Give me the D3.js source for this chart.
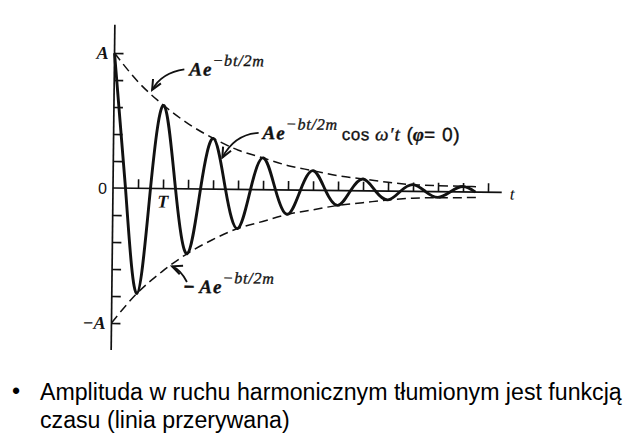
<!DOCTYPE html>
<html><head><meta charset="utf-8">
<script src="https://cdn.jsdelivr.net/npm/d3@7"></script>
<style>html,body{margin:0;padding:0;background:#fff;}svg{display:block;}</style>
</head><body>
<svg id="c" width="640" height="448"></svg>
<script>
// ---- data (time in half-period units: one tick = T/2; values in units of A) ----
const tickT = [1,2,3,4,5,6,7,8,9,10,11,12,13,14,15];
const yTickV = [-1,-0.8,-0.6,-0.4,-0.2,0.2,0.4,0.6,0.8,1];
const extremaT = [0,1,2,3,4,5,6,7,8,9,10,11,12,13,14];
const extremaV = [1.00,-0.78,0.615,-0.48,0.375,-0.29,0.235,-0.18,0.145,-0.11,0.088,-0.065,0.05,-0.042,0.04];
const crossT = [0.5,1.5,2.5,3.5,4.5,5.5,6.5,7.5,8.5,9.5,10.5,11.5,12.5,13.5,14.5];
const envT = [0,1,2,3,4,5,6,7,8,9,10,11,12,13,14,14.7];
const envV = [1.00,0.78,0.615,0.48,0.375,0.29,0.235,0.18,0.145,0.11,0.088,0.065,0.05,0.045,0.042,0.04];
const yLabels = ["A","0","−A"];
const yLabelV = [1,0,-1];
const bulletLines = ["Amplituda w ruchu harmonicznym tłumionym jest funkcją","czasu (linia przerywana)"];
// annotation arrows: tail, control, tip (data coords)
const arrows = [
  {t0:2.8, v0:0.885, tc:1.9, vc:0.86, t1:1.52, v1:0.73},
  {t0:5.8, v0:0.42, tc:4.85, vc:0.41, t1:4.36, v1:0.235},
  {t0:3.0, v0:-0.69, tc:2.75, vc:-0.6, t1:2.4, v1:-0.575}
];

const svg = d3.select("#c");
svg.append("rect").attr("width",640).attr("height",448).attr("fill","#fff");

const x = d3.scaleLinear().domain([0,15]).range([113,488]);
const y = d3.scaleLinear().domain([-1,1]).range([323,53]);

const g = svg.append("g").attr("transform",`rotate(0.65, ${x(0)}, ${y(0)})`);

// axes
const xAxisG = g.append("g").attr("transform",`translate(0,${y(0)})`)
  .call(d3.axisTop(x).tickValues(tickT).tickSize(9).tickSizeOuter(0).tickFormat(""));
xAxisG.select(".domain").attr("d",`M${x(0)},0H${x(15.55)}`);
xAxisG.selectAll("path,line").attr("stroke","#111").attr("stroke-width",1.6);

const yAxisG = g.append("g").attr("transform",`translate(${x(0)},0)`)
  .call(d3.axisRight(y).tickValues(yTickV).tickSize(9).tickSizeOuter(0).tickFormat(""));
yAxisG.select(".domain").attr("d",`M0,${y(1.21)}V${y(-1.2)}`);
yAxisG.selectAll("path,line").attr("stroke","#111").attr("stroke-width",1.7);

// envelopes
const envLine = d3.line().x(d=>x(d[0])).y(d=>y(d[1])).curve(d3.curveMonotoneX);
const upper = envT.map((t,i)=>[t, envV[i]]);
const lower = envT.map((t,i)=>[t, -envV[i]]);
[upper, lower].forEach(pts=>{
  g.append("path").attr("d",envLine(pts)).attr("fill","none")
    .attr("stroke","#111").attr("stroke-width",1.5).attr("stroke-dasharray","9,5");
});

// damped oscillation
const waveLine = d3.line().x(d=>x(d[0])).y(d=>y(d[1])).curve(d3.curveNatural);
const wavePts = extremaT.map((t,i)=>[t, extremaV[i]])
  .concat(crossT.map(t=>[t,0])).sort((a,b)=>a[0]-b[0]);
g.append("path").attr("d",waveLine(wavePts)).attr("fill","none")
  .attr("stroke","#111").attr("stroke-width",2.9).attr("stroke-linejoin","round");

// axis labels
const serif = "'Liberation Serif','DejaVu Serif',serif";
const sans = "'Liberation Sans',Arial,sans-serif";
yLabels.forEach((lab,i)=>{
  const isZero = lab==="0";
  g.append("text").attr("x", x(0)-6).attr("y", y(yLabelV[i])+6)
    .attr("text-anchor","end")
    .attr("font-family", isZero? sans: serif)
    .attr("font-style", isZero? "normal":"italic")
    .attr("font-weight", isZero? "normal":"bold")
    .attr("font-size", isZero? 16: 18).attr("fill","#111").text(lab);
});
g.append("text").attr("x",x(2)).attr("y",y(0)+19).attr("text-anchor","middle")
  .attr("font-family",serif).attr("font-style","italic").attr("font-weight","bold")
  .attr("font-size",18).attr("fill","#111").text("T");
g.append("text").attr("x",x(15.55)+8).attr("y",y(0)+7)
  .attr("font-family",serif).attr("font-style","italic")
  .attr("font-size",17).attr("fill","#111").text("t");

// arrows
const defs = svg.append("defs");
defs.append("marker").attr("id","ah").attr("markerUnits","userSpaceOnUse")
  .attr("viewBox","-12 -7 14 14").attr("markerWidth",14).attr("markerHeight",14)
  .attr("refX",0).attr("refY",0).attr("orient","auto")
  .append("path").attr("d","M-10,-4.5L0,0L-10,4.5").attr("fill","none")
  .attr("stroke","#111").attr("stroke-width",2);
arrows.forEach(a=>{
  g.append("path").attr("d",`M${x(a.t0)},${y(a.v0)}Q${x(a.tc)},${y(a.vc)} ${x(a.t1)},${y(a.v1)}`)
    .attr("fill","none").attr("stroke","#111").attr("stroke-width",1.8)
    .attr("marker-end","url(#ah)");
});

// annotation labels
function expo(sel, prefix){
  if(prefix) sel.append("tspan").attr("font-family",sans).attr("font-weight","bold").attr("font-size",18).text(prefix);
  sel.append("tspan").attr("font-family",serif).attr("font-style","italic").attr("font-weight","bold")
    .attr("font-size",19).attr("letter-spacing",1).text("Ae");
  sel.append("tspan").attr("font-family",serif).attr("font-style","italic")
    .attr("font-size",16).attr("dy",-10).attr("letter-spacing",0.8).text("−bt/2m");
}
function thick(sel){ sel.attr("stroke","#111").attr("stroke-width",0.35); }
const l1 = g.append("text").attr("x",x(3.0)).attr("y",y(0.84)).attr("fill","#111");
expo(l1); thick(l1);
const l2 = g.append("text").attr("x",x(5.96)).attr("y",y(0.375)).attr("fill","#111");
expo(l2);
l2.append("tspan").attr("dy",10).attr("dx",4).attr("font-family",sans).attr("font-size",17).attr("letter-spacing",0.5).text("cos ");
l2.append("tspan").attr("font-family",serif).attr("font-style","italic").attr("font-size",19).attr("letter-spacing",1).text("ω′t ");
l2.append("tspan").attr("font-family",sans).attr("font-size",19).text("(");
l2.append("tspan").attr("font-family",serif).attr("font-style","italic").attr("font-weight","bold").attr("font-size",19).text("φ");
l2.append("tspan").attr("font-family",sans).attr("font-size",19).attr("letter-spacing",0.8).text("= 0)");
thick(l2);
const l3 = g.append("text").attr("x",x(2.88)).attr("y",y(-0.77)).attr("fill","#111");
expo(l3, "− "); thick(l3);

// bullet text
const tg = svg.append("g");
const t1 = tg.append("text").attr("x",40).attr("y",400).attr("font-family",sans)
  .attr("font-size",22).attr("fill","#000").text(bulletLines[0]);
const w = t1.node().getComputedTextLength();
const fs = 22*582/w;
t1.attr("font-size",fs);
tg.append("text").attr("x",40).attr("y",428).attr("font-family",sans)
  .attr("font-size",fs).attr("fill","#000").text(bulletLines[1]);
tg.append("text").attr("x",12).attr("y",399).attr("font-family",sans)
  .attr("font-size",fs).attr("fill","#000").text("•");
</script>
</body></html>
